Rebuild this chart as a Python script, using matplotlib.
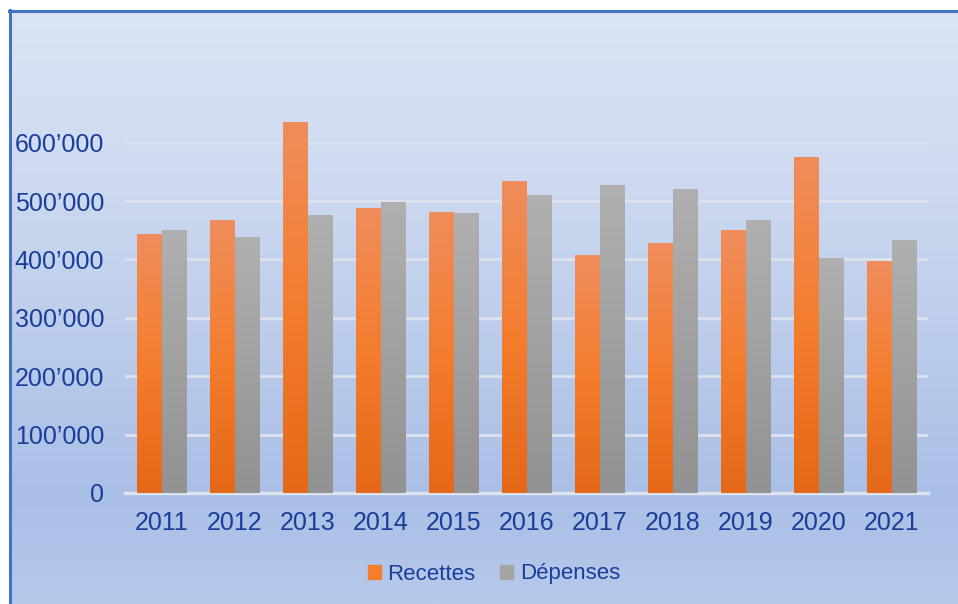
import matplotlib
matplotlib.use("Agg")
import matplotlib.pyplot as plt
import numpy as np
from matplotlib.colors import LinearSegmentedColormap
from matplotlib.patches import Rectangle
from matplotlib.lines import Line2D
from matplotlib.ticker import FuncFormatter

years = ["2011", "2012", "2013", "2014", "2015", "2016", "2017", "2018", "2019", "2020", "2021"]
recettes = [443000, 467000, 635000, 488000, 481000, 534000, 407000, 428000, 450000, 574000, 396000]
depenses = [450000, 437000, 476000, 498000, 478000, 510000, 527000, 519000, 466000, 402000, 433000]
yticks = [0, 100000, 200000, 300000, 400000, 500000, 600000]
series_names = ["Recettes", "Dépenses"]

plt.rcParams['font.family'] = ['Liberation Sans', 'DejaVu Sans']
TEXT = "#1A3D9B"

W, H = 958, 604
fig = plt.figure(figsize=(W / 100, H / 100), dpi=100)
fig.patch.set_facecolor("white")

# background gradient
bg = fig.add_axes([0, 0, 1, 1], zorder=-10)
bg.set_xlim(0, W)
bg.set_ylim(H, 0)
bg.axis("off")
bg_cmap = LinearSegmentedColormap.from_list(
    "bg", [(0.0, "#DBE4F4"), (0.25, "#CFDBF0"), (0.82, "#AABFE6"), (1.0, "#B7C9EB")])
grad = np.linspace(0, 1, 256).reshape(-1, 1)
bg.imshow(grad, cmap=bg_cmap, extent=(10, W, H, 11), aspect="auto", interpolation="bilinear")
bg.add_line(Line2D([10, 10], [10, H], color="#4472C4", lw=2.2))
bg.add_line(Line2D([9, W], [11, 11], color="#4472C4", lw=2.2))

# main axes
left, right, zero_y, top_y = 125, 928, 493, 100
ax = fig.add_axes([left / W, (H - zero_y) / H, (right - left) / W, (zero_y - top_y) / H])
ax.patch.set_alpha(0)
n = len(years)
x = np.arange(n)
bw = 0.34
ymax = 600000 * (zero_y - top_y) / (zero_y - 142.7)
ax.set_xlim(-0.5, n - 0.5)
ax.set_ylim(0, ymax)

orange_cmap = LinearSegmentedColormap.from_list("o", [(0, "#E46818"), (0.5, "#F47D2E"), (1, "#F08D5C")])
grey_cmap = LinearSegmentedColormap.from_list("g", [(0, "#929292"), (1, "#B0B0B0")])

b1 = ax.bar(x - bw / 2, recettes, bw, color="#F47D2E", zorder=2)
b2 = ax.bar(x + bw / 2, depenses, bw, color="#A5A5A5", zorder=2)
g = np.linspace(0, 1, 128).reshape(-1, 1)
for bars, cm in ((b1, orange_cmap), (b2, grey_cmap)):
    for r in bars:
        x0, w, h = r.get_x(), r.get_width(), r.get_height()
        ax.imshow(g, cmap=cm, origin="lower", extent=(x0, x0 + w, 0, h),
                  aspect="auto", zorder=3, interpolation="bilinear")

ax.set_yticks(yticks)
ax.yaxis.set_major_formatter(FuncFormatter(lambda v, p: f"{int(v):,}".replace(",", "\u2019")))
ax.set_xticks(x)
ax.set_xticklabels(years)
ax.grid(axis="y", color="#DCE2EE", lw=2, zorder=1)
ax.set_axisbelow(True)
for s in ["top", "right", "left"]:
    ax.spines[s].set_visible(False)
ax.spines["bottom"].set_color("#DCE2EE")
ax.spines["bottom"].set_linewidth(2.5)
ax.tick_params(axis="both", length=0, labelsize=18, colors=TEXT)
ax.tick_params(axis="y", pad=15)
ax.tick_params(axis="x", pad=13)

handles = [Rectangle((0, 0), 1, 1, color="#F47D2E"), Rectangle((0, 0), 1, 1, color="#A5A5A5")]
leg = fig.legend(handles, series_names, loc="center", bbox_to_anchor=(494 / W, (H - 574) / H),
                 ncol=2, frameon=False, fontsize=16, handlelength=0.6, handleheight=0.6,
                 handletextpad=0.3, columnspacing=1.1, labelcolor=TEXT)

fig.savefig("out.png", dpi=100)
